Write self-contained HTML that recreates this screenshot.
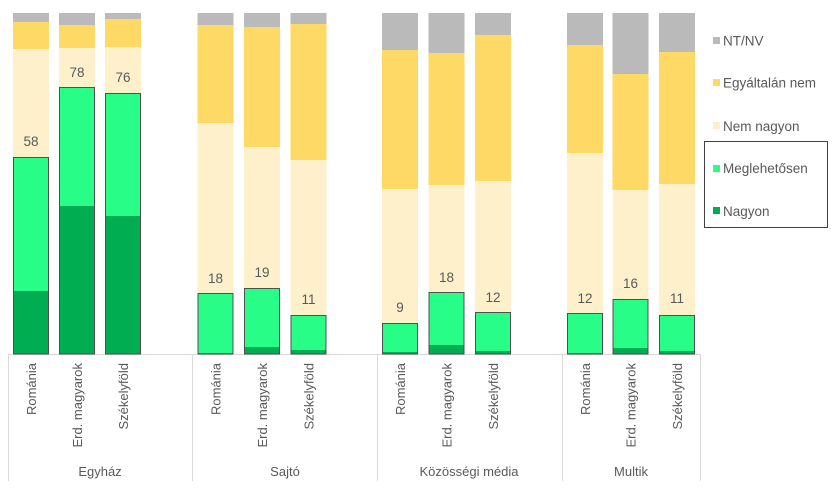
<!DOCTYPE html>
<html>
<head>
<meta charset="utf-8">
<style>
html,body{margin:0;padding:0;background:#fff;}
svg{display:block;}
text{font-family:"Liberation Sans",sans-serif;}
</style>
</head>
<body>
<svg width="837" height="499" viewBox="0 0 837 499" xmlns="http://www.w3.org/2000/svg">
<rect x="0" y="0" width="837" height="499" fill="#ffffff"/>
<g id="bars"></g>
<!-- axis -->
<g stroke="#d9d9d9" stroke-width="1" fill="none">
  <line x1="8.5" y1="354.5" x2="700.5" y2="354.5"/>
  <line x1="8.5" y1="354" x2="8.5" y2="481"/>
  <line x1="192.5" y1="354" x2="192.5" y2="481"/>
  <line x1="377.5" y1="354" x2="377.5" y2="481"/>
  <line x1="562.5" y1="354" x2="562.5" y2="481"/>
  <line x1="700.5" y1="354" x2="700.5" y2="481"/>
</g>

<!-- Egyház -->
<rect x="13" y="13" width="36" height="9" fill="#bababa"/>
<rect x="13" y="22" width="36" height="27" fill="#ffd966"/>
<rect x="13" y="49" width="36" height="108" fill="#fff0cc"/>
<rect x="13" y="157" width="36" height="134" fill="#27fd87"/>
<rect x="13" y="291" width="36" height="63" fill="#00ad50"/>
<rect x="13.5" y="157.5" width="35" height="196.5" fill="none" stroke="#505050" stroke-width="1"/>

<rect x="59" y="13" width="36" height="12" fill="#bababa"/>
<rect x="59" y="25" width="36" height="23" fill="#ffd966"/>
<rect x="59" y="48" width="36" height="39" fill="#fff0cc"/>
<rect x="59" y="87" width="36" height="119" fill="#27fd87"/>
<rect x="59" y="206" width="36" height="148" fill="#00ad50"/>
<rect x="59.5" y="87.5" width="35" height="266.5" fill="none" stroke="#505050" stroke-width="1"/>

<rect x="105" y="13" width="36" height="6" fill="#bababa"/>
<rect x="105" y="19" width="36" height="28" fill="#ffd966"/>
<rect x="105" y="47" width="36" height="46" fill="#fff0cc"/>
<rect x="105" y="93" width="36" height="123" fill="#27fd87"/>
<rect x="105" y="216" width="36" height="138" fill="#00ad50"/>
<rect x="105.5" y="93.5" width="35" height="260.5" fill="none" stroke="#505050" stroke-width="1"/>

<!-- Sajtó -->
<rect x="197.5" y="13" width="36" height="12" fill="#bababa"/>
<rect x="197.5" y="25" width="36" height="98" fill="#ffd966"/>
<rect x="197.5" y="123" width="36" height="170" fill="#fff0cc"/>
<rect x="197.5" y="293" width="36" height="60" fill="#27fd87"/>
<rect x="197.5" y="353" width="36" height="1" fill="#00ad50"/>
<rect x="198" y="293.5" width="35" height="60.5" fill="none" stroke="#505050" stroke-width="1"/>

<rect x="244" y="13" width="36" height="14" fill="#bababa"/>
<rect x="244" y="27" width="36" height="120" fill="#ffd966"/>
<rect x="244" y="147" width="36" height="141" fill="#fff0cc"/>
<rect x="244" y="288" width="36" height="59" fill="#27fd87"/>
<rect x="244" y="347" width="36" height="7" fill="#00ad50"/>
<rect x="244.5" y="288.5" width="35" height="65.5" fill="none" stroke="#505050" stroke-width="1"/>

<rect x="290.5" y="13" width="36" height="11" fill="#bababa"/>
<rect x="290.5" y="24" width="36" height="136" fill="#ffd966"/>
<rect x="290.5" y="160" width="36" height="155" fill="#fff0cc"/>
<rect x="290.5" y="315" width="36" height="35" fill="#27fd87"/>
<rect x="290.5" y="350" width="36" height="4" fill="#00ad50"/>
<rect x="291" y="315.5" width="35" height="38.5" fill="none" stroke="#505050" stroke-width="1"/>

<!-- Közösségi média -->
<rect x="382" y="13" width="36" height="37" fill="#bababa"/>
<rect x="382" y="50" width="36" height="139" fill="#ffd966"/>
<rect x="382" y="189" width="36" height="134" fill="#fff0cc"/>
<rect x="382" y="323" width="36" height="29" fill="#27fd87"/>
<rect x="382" y="352" width="36" height="2" fill="#00ad50"/>
<rect x="382.5" y="323.5" width="35" height="30.5" fill="none" stroke="#505050" stroke-width="1"/>

<rect x="428.5" y="13" width="36" height="40" fill="#bababa"/>
<rect x="428.5" y="53" width="36" height="132" fill="#ffd966"/>
<rect x="428.5" y="185" width="36" height="107" fill="#fff0cc"/>
<rect x="428.5" y="292" width="36" height="53" fill="#27fd87"/>
<rect x="428.5" y="345" width="36" height="9" fill="#00ad50"/>
<rect x="429" y="292.5" width="35" height="61.5" fill="none" stroke="#505050" stroke-width="1"/>

<rect x="475" y="13" width="36" height="22" fill="#bababa"/>
<rect x="475" y="35" width="36" height="146" fill="#ffd966"/>
<rect x="475" y="181" width="36" height="131" fill="#fff0cc"/>
<rect x="475" y="312" width="36" height="39" fill="#27fd87"/>
<rect x="475" y="351" width="36" height="3" fill="#00ad50"/>
<rect x="475.5" y="312.5" width="35" height="41.5" fill="none" stroke="#505050" stroke-width="1"/>

<!-- Multik -->
<rect x="567" y="13" width="36" height="32" fill="#bababa"/>
<rect x="567" y="45" width="36" height="108" fill="#ffd966"/>
<rect x="567" y="153" width="36" height="160" fill="#fff0cc"/>
<rect x="567" y="313" width="36" height="40" fill="#27fd87"/>
<rect x="567" y="353" width="36" height="1" fill="#00ad50"/>
<rect x="567.5" y="313.5" width="35" height="40.5" fill="none" stroke="#505050" stroke-width="1"/>

<rect x="612.5" y="13" width="36" height="61" fill="#bababa"/>
<rect x="612.5" y="74" width="36" height="116" fill="#ffd966"/>
<rect x="612.5" y="190" width="36" height="109" fill="#fff0cc"/>
<rect x="612.5" y="299" width="36" height="49" fill="#27fd87"/>
<rect x="612.5" y="348" width="36" height="6" fill="#00ad50"/>
<rect x="613" y="299.5" width="35" height="54.5" fill="none" stroke="#505050" stroke-width="1"/>

<rect x="659" y="13" width="36" height="39" fill="#bababa"/>
<rect x="659" y="52" width="36" height="132" fill="#ffd966"/>
<rect x="659" y="184" width="36" height="131" fill="#fff0cc"/>
<rect x="659" y="315" width="36" height="36" fill="#27fd87"/>
<rect x="659" y="351" width="36" height="3" fill="#00ad50"/>
<rect x="659.5" y="315.5" width="35" height="38.5" fill="none" stroke="#505050" stroke-width="1"/>

<!-- data labels -->
<g font-size="13.5" fill="#595959" text-anchor="middle">
  <text x="31" y="146">58</text>
  <text x="77" y="77">78</text>
  <text x="123" y="82">76</text>
  <text x="215.5" y="283">18</text>
  <text x="262" y="277">19</text>
  <text x="308.5" y="304">11</text>
  <text x="400" y="312">9</text>
  <text x="446.5" y="282">18</text>
  <text x="493" y="302">12</text>
  <text x="585" y="303">12</text>
  <text x="630.5" y="288">16</text>
  <text x="677" y="303">11</text>
</g>

<!-- category labels -->
<g font-size="13" fill="#595959" text-anchor="end">
  <text transform="translate(36,363) rotate(-90)">Románia</text>
  <text transform="translate(82,363) rotate(-90)">Erd. magyarok</text>
  <text transform="translate(128,363) rotate(-90)">Székelyföld</text>
  <text transform="translate(220.5,363) rotate(-90)">Románia</text>
  <text transform="translate(267,363) rotate(-90)">Erd. magyarok</text>
  <text transform="translate(313.5,363) rotate(-90)">Székelyföld</text>
  <text transform="translate(405,363) rotate(-90)">Románia</text>
  <text transform="translate(451.5,363) rotate(-90)">Erd. magyarok</text>
  <text transform="translate(498,363) rotate(-90)">Székelyföld</text>
  <text transform="translate(590,363) rotate(-90)">Románia</text>
  <text transform="translate(635.5,363) rotate(-90)">Erd. magyarok</text>
  <text transform="translate(682,363) rotate(-90)">Székelyföld</text>
</g>

<!-- group labels -->
<g font-size="13" fill="#595959" text-anchor="middle">
  <text x="100" y="476">Egyház</text>
  <text x="285" y="476">Sajtó</text>
  <text x="469" y="476">Közösségi média</text>
  <text x="631" y="476">Multik</text>
</g>

<!-- legend -->
<rect x="704.5" y="141.5" width="123" height="86" fill="none" stroke="#404040" stroke-width="1"/>
<rect x="713" y="37" width="7" height="7" fill="#bababa"/>
<rect x="713" y="79" width="7" height="7" fill="#ffd966"/>
<rect x="713" y="122" width="7" height="7" fill="#fff0cc"/>
<rect x="713" y="165" width="7" height="7" fill="#27fd87"/>
<rect x="713" y="207" width="7" height="7" fill="#00ad50"/>
<g font-size="13.5" fill="#595959">
  <text x="723" y="45.5">NT/NV</text>
  <text x="723" y="87.5">Egyáltalán nem</text>
  <text x="723" y="131">Nem nagyon</text>
  <text x="723" y="173">Meglehetősen</text>
  <text x="723" y="216">Nagyon</text>
</g>
</svg>
</body>
</html>
